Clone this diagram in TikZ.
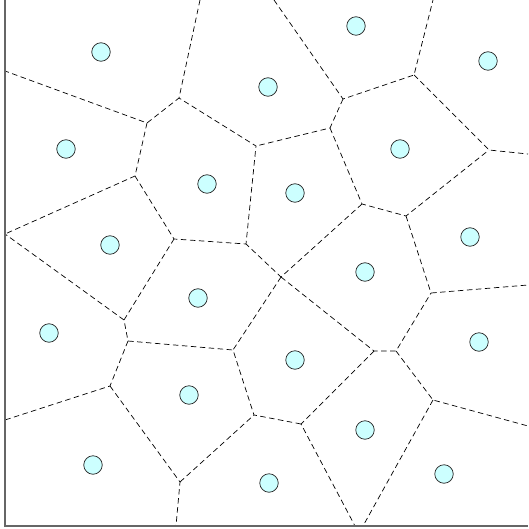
\documentclass[tikz,border=0pt]{standalone}
\begin{document}
\begin{tikzpicture}[x=1pt,y=-1pt,
  edge/.style={draw=black,line width=0.7pt,dash pattern=on 5.5pt off 3.5pt},
  site/.style={circle,draw=black!85,fill={rgb,255:red,204;green,255;blue,255},line width=0.7pt,minimum size=18.5pt,inner sep=0pt},
  frame/.style={draw=black!60,line width=1.6pt}]
\useasboundingbox (0,0) rectangle (528,529);
\begin{scope}
\clip (5,0) rectangle (528,526);
% vertices
\coordinate (t1) at (200,0);
\coordinate (t2) at (274,0);
\coordinate (t3) at (433,0);
\coordinate (l1) at (5,71);
\coordinate (l2) at (5,234);
\coordinate (l3) at (5,420);
\coordinate (r1) at (528,154);
\coordinate (r2) at (528,285);
\coordinate (r3) at (528,426);
\coordinate (b1) at (176,526);
\coordinate (b2) at (355,526);
\coordinate (b3) at (363,526);
\coordinate (a) at (179,98);
\coordinate (b) at (147,123);
\coordinate (c) at (135,176);
\coordinate (d) at (174,239);
\coordinate (e) at (246,244);
\coordinate (f) at (256,146);
\coordinate (g) at (343,99);
\coordinate (h) at (414,75);
\coordinate (i) at (330,128);
\coordinate (j) at (489,150);
\coordinate (k) at (362,204);
\coordinate (m) at (406,216);
\coordinate (n) at (281,277);
\coordinate (o) at (431,293);
\coordinate (p) at (374,351);
\coordinate (q) at (396,351);
\coordinate (s) at (433,400);
\coordinate (u) at (301,424);
\coordinate (v) at (233,350);
\coordinate (w) at (254,415);
\coordinate (x1) at (124,320);
\coordinate (x2) at (128,341);
\coordinate (y1) at (110,386);
\coordinate (z1) at (180,482);
% edges
\draw[edge] (t1) -- (a) -- (b) -- (l1);
\draw[edge] (b) -- (c) -- (l2);
\draw[edge] (c) -- (d) -- (e) -- (f) -- (a);
\draw[edge] (t2) -- (g) -- (h) -- (t3);
\draw[edge] (h) -- (j) -- (r1);
\draw[edge] (g) -- (i) -- (f);
\draw[edge] (i) -- (k) -- (m) -- (j);
\draw[edge] (m) -- (o) -- (r2);
\draw[edge] (k) -- (n) -- (e);
\draw[edge] (n) -- (v);
\draw[edge] (n) -- (p) -- (q) -- (o);
\draw[edge] (q) -- (s) -- (r3);
\draw[edge] (s) -- (b3);
\draw[edge] (p) -- (u) -- (b2);
\draw[edge] (u) -- (w) -- (v) -- (x2) -- (x1) -- (l2);
\draw[edge] (x1) -- (d);
\draw[edge] (x2) -- (y1) -- (l3);
\draw[edge] (y1) -- (z1) -- (b1);
\draw[edge] (z1) -- (w);
\end{scope}
% frame
\draw[frame] (5,0) -- (5,526) -- (528,526);
% sites
\node[site] (s1) at (101,52) {};
\node[site] (s2) at (268,87) {};
\node[site] (s3) at (356,26) {};
\node[site] (s4) at (488,61) {};
\node[site] (s5) at (66,149) {};
\node[site] (s6) at (207,184) {};
\node[site] (s7) at (295,193) {};
\node[site] (s8) at (400,149) {};
\node[site] (s9) at (110,245) {};
\node[site] (s10) at (470,237) {};
\node[site] (s11) at (365,272) {};
\node[site] (s12) at (198,298) {};
\node[site] (s13) at (49,333) {};
\node[site] (s14) at (479,342) {};
\node[site] (s15) at (295,360) {};
\node[site] (s16) at (189,395) {};
\node[site] (s17) at (365,430) {};
\node[site] (s18) at (444,474) {};
\node[site] (s19) at (93,465) {};
\node[site] (s20) at (269,483) {};
\end{tikzpicture}
\end{document}
